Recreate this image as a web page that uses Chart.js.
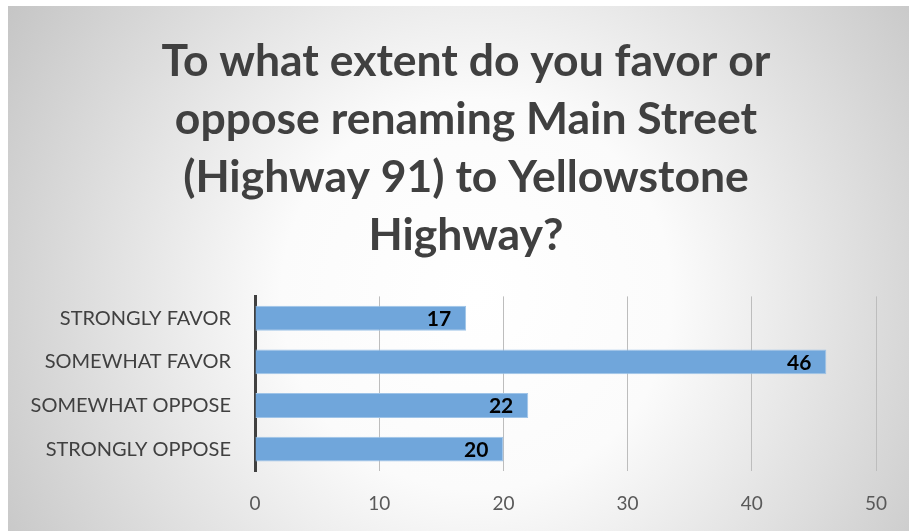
<!DOCTYPE html>
<html>
<head>
<meta charset="utf-8">
<script src="https://cdn.jsdelivr.net/npm/chart.js@4"></script>
<style>
  html, body { margin: 0; padding: 0; background: #fff; }
  #wrap { position: absolute; left: 8px; top: 6px; width: 901px; height: 525px; }
</style>
</head>
<body>
<div id="wrap"><canvas id="myChart" width="901" height="525"></canvas></div>
<script>
var titleLines = [
  "To what extent do you favor or",
  "oppose renaming Main Street",
  "(Highway 91) to Yellowstone",
  "Highway?"
];
var answers = ["STRONGLY FAVOR", "SOMEWHAT FAVOR", "SOMEWHAT OPPOSE", "STRONGLY OPPOSE"];
var counts = [17, 46, 22, 20];
var xTicks = [0, 10, 20, 30, 40, 50];

// soft radial backdrop, white in the middle fading to grey
var backdrop = {
  id: "backdrop",
  beforeDraw: chart => {
    var c = chart.ctx;
    var w = chart.width, h = chart.height;
    var g = c.createRadialGradient(w * 0.52, h * 0.55, 0, w * 0.52, h * 0.55, w * 0.62);
    g.addColorStop(0, "#ffffff");
    g.addColorStop(0.35, "#fbfbfb");
    g.addColorStop(1, "#c4c4c4");
    c.save();
    c.fillStyle = g;
    c.fillRect(0, 0, w, h);
    c.restore();
  }
};

// value labels drawn just inside the end of each bar
var barValues = {
  id: "barValues",
  afterDatasetsDraw: chart => {
    var c = chart.ctx;
    var meta = chart.getDatasetMeta(0);
    c.save();
    c.font = "bold 21px Lato";
    c.fillStyle = "#000";
    c.textAlign = "right";
    c.textBaseline = "middle";
    meta.data.forEach((bar, i) => {
      c.fillText(counts[i], bar.x - 15, bar.y + 1);
    });
    c.restore();
  }
};

var ctx = document.getElementById("myChart");
new Chart(ctx, {
  type: "bar",
  data: {
    labels: answers,
    datasets: [
      {
        data: counts,
        backgroundColor: "#70a6db",
        borderColor: "#9fc4e8",
        borderWidth: 1,
        barPercentage: 0.57,
        categoryPercentage: 1
      }
    ]
  },
  plugins: [backdrop, barValues],
  options: {
    indexAxis: "y",
    responsive: false,
    animation: false,
    layout: { padding: { left: 15, right: 0, top: 0, bottom: 16 } },
    plugins: {
      legend: { display: false },
      tooltip: { enabled: false },
      title: {
        display: true,
        text: titleLines,
        color: "#404040",
        font: { family: "Lato", size: 44.5, weight: "bold", lineHeight: 1.3 },
        padding: { top: 27, bottom: 32 }
      }
    },
    scales: {
      x: {
        min: 0,
        max: 50,
        afterBuildTicks: scale => {
          scale.ticks = xTicks.map(v => ({ value: v }));
        },
        afterFit: scale => {
          scale.paddingRight = 33;
          scale.height = 44;
        },
        grid: { color: "#bdbdbd", lineWidth: 1, drawTicks: false },
        border: { display: false },
        ticks: {
          color: "#595959",
          font: { family: "Lato", size: 19 },
          padding: 21
        }
      },
      y: {
        grid: { display: false },
        border: { display: true, color: "#404040", width: 3 },
        afterFit: scale => {
          scale.width = 232;
        },
        ticks: {
          color: "#404040",
          font: { family: "Lato", size: 20 },
          padding: 16
        }
      }
    }
  }
});
</script>
</body>
</html>
